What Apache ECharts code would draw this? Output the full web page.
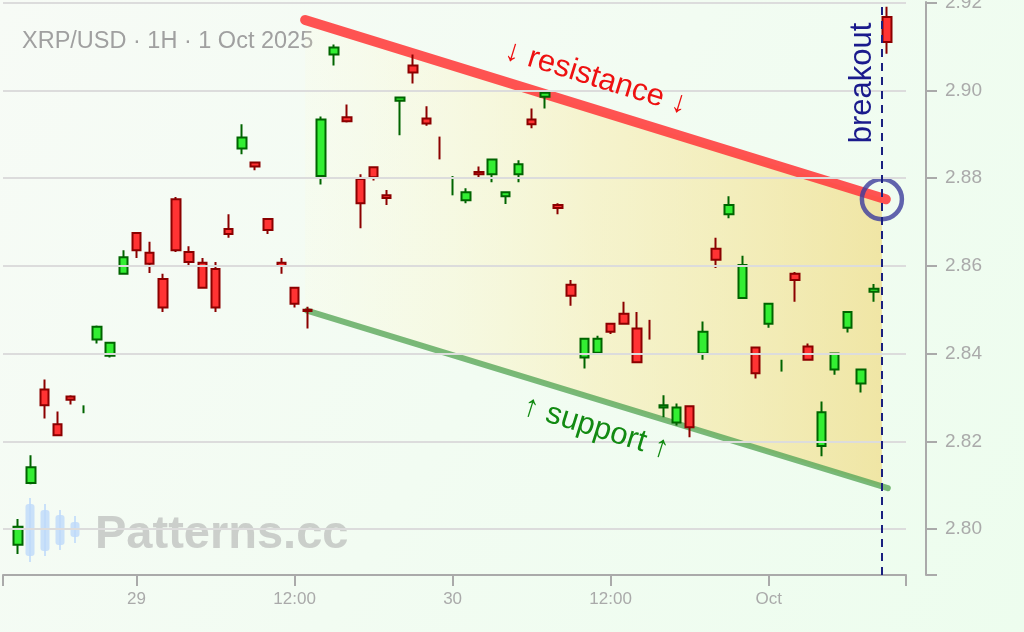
<!DOCTYPE html>
<html>
<head>
<meta charset="utf-8">
<script src="https://cdn.jsdelivr.net/npm/echarts@6/dist/echarts.min.js"></script>
<style>html,body{margin:0;padding:0;}#c{width:1024px;height:632px;}</style>
</head>
<body>
<div id="c"></div>
<script>
// Hours counted from 28 Sep 2025 00:00; first candle at 28 Sep 15:00 (1H candles)
const firstHour = 15;
const opens  = [2.7964,2.8105,2.8318,2.8239,2.8302,2.8272,2.8432,2.8395,2.8582,2.8675,2.8630,2.8570,2.8752,2.8632,2.8607,2.8593,2.8684,2.8868,2.8836,2.8707,2.8607,2.8550,2.8500,2.8805,2.9082,2.8939,2.8798,2.8825,2.8761,2.8977,2.9057,2.8936,2.8880,2.8780,2.8750,2.8814,2.8809,2.8759,2.8809,2.8934,2.8986,2.8739,2.8557,2.8391,2.8402,2.8468,2.8491,2.8457,2.8453,2.8277,2.8243,2.8280,2.8400,2.8639,2.8718,2.8527,2.8414,2.8468,2.8370,2.8582,2.8416,2.8189,2.8364,2.8459,2.8332,2.8541,2.9168];
const closes = [2.8005,2.8141,2.8282,2.8214,2.8295,2.8274,2.8461,2.8425,2.8620,2.8636,2.8605,2.8505,2.8636,2.8609,2.8550,2.8505,2.8673,2.8893,2.8827,2.8682,2.8600,2.8514,2.8497,2.8934,2.9098,2.8930,2.8743,2.8802,2.8755,2.8984,2.9041,2.8925,2.8878,2.8782,2.8768,2.8809,2.8843,2.8768,2.8832,2.8923,2.8995,2.8732,2.8532,2.8434,2.8434,2.8450,2.8468,2.8380,2.8451,2.8282,2.8277,2.8232,2.8450,2.8614,2.8739,2.8602,2.8355,2.8514,2.8372,2.8568,2.8386,2.8266,2.8400,2.8495,2.8364,2.8548,2.9111];
const lows   = [2.7943,2.8102,2.8252,2.8212,2.8284,2.8264,2.8423,2.8391,2.8582,2.8618,2.8584,2.8495,2.8632,2.8602,2.8550,2.8495,2.8664,2.8855,2.8818,2.8673,2.8582,2.8505,2.8457,2.8786,2.9057,2.8927,2.8686,2.8795,2.8739,2.8898,2.9016,2.8920,2.8843,2.8761,2.8743,2.8800,2.8791,2.8741,2.8791,2.8914,2.8959,2.8718,2.8509,2.8366,2.8400,2.8445,2.8468,2.8380,2.8432,2.8255,2.8236,2.8209,2.8386,2.8595,2.8709,2.8527,2.8343,2.8459,2.8359,2.8518,2.8386,2.8166,2.8352,2.8448,2.8311,2.8518,2.9084];
const highs  = [2.8023,2.8168,2.8341,2.8268,2.8305,2.8282,2.8464,2.8425,2.8636,2.8677,2.8655,2.8582,2.8757,2.8645,2.8618,2.8609,2.8718,2.8923,2.8836,2.8707,2.8618,2.8550,2.8507,2.8941,2.9105,2.8968,2.8809,2.8827,2.8773,2.8984,2.9082,2.8964,2.8895,2.8805,2.8777,2.8827,2.8845,2.8768,2.8841,2.8959,2.8995,2.8743,2.8568,2.8436,2.8441,2.8470,2.8518,2.8495,2.8477,2.8305,2.8286,2.8282,2.8473,2.8664,2.8759,2.8623,2.8414,2.8514,2.8386,2.8586,2.8423,2.8291,2.8400,2.8495,2.8364,2.8559,2.9191];

// Channel lines [hour, price]
const resistanceLine = [[36.8, 2.9161], [80.9, 2.8752]];
const supportLine    = [[36.95, 2.8498], [81.05, 2.8093]];
const breakoutHour = 80.6;
const breakoutPrice = 2.8752;

// Axes
const xMin = 13.86, xMax = 82.43;
const xTickHours  = [24, 36, 48, 60, 72];
const xTickLabels = ['29', '12:00', '30', '12:00', 'Oct'];
const yMin = 2.7895, yMax = 2.9202;
const yTicks = [2.80, 2.82, 2.84, 2.86, 2.88, 2.90, 2.92];

const allCandles = opens.map((o, i) => [firstHour + i, o, closes[i], lows[i], highs[i]]);
// candles whose body is too thin to show are drawn as plain wicks
const dojiLimit = 0.0003;
const bodyCandles = allCandles.filter(c => Math.abs(c[1] - c[2]) >= dojiLimit);
const lineCandles = allCandles.filter(c => Math.abs(c[1] - c[2]) < dojiLimit);

function lineAt(line, h) {
  const [a, b] = line;
  return a[1] + (b[1] - a[1]) * (h - a[0]) / (b[0] - a[0]);
}
const fillLeft = resistanceLine[0][0];
const fillPoly = [
  [fillLeft, lineAt(resistanceLine, fillLeft)],
  [breakoutHour, lineAt(resistanceLine, breakoutHour)],
  [breakoutHour, lineAt(supportLine, breakoutHour)],
  [fillLeft, lineAt(supportLine, fillLeft)]
];

const chart = echarts.init(document.getElementById('c'), null, {renderer: 'canvas'});
const axisColor = '#aaaaaa';
const labelFont = "'Liberation Sans', Arial, sans-serif";
const candleStyle = {
  color: '#33ee33', color0: '#ff3333',
  borderColor: '#006400', borderColor0: '#8b0000',
  borderWidth: 2
};

chart.setOption({
  animation: false,
  backgroundColor: {
    type: 'linear', x: 0, y: 0, x2: 1, y2: 1,
    colorStops: [{offset: 0, color: '#f7fbf6'}, {offset: 1, color: '#edfdee'}]
  },
  grid: {left: 3, right: 118, top: 2, bottom: 57, outerBoundsMode: 'none', containLabel: false},
  xAxis: {
    type: 'value', min: xMin, max: xMax,
    axisLine: {show: true, lineStyle: {color: axisColor, width: 2}},
    axisTick: {show: true, length: 11, lineStyle: {color: axisColor, width: 2},
      customValues: [xMin].concat(xTickHours, [xMax])},
    axisLabel: {customValues: xTickHours, color: axisColor, fontSize: 17, fontFamily: labelFont, margin: 16,
      formatter: v => { const k = xTickHours.indexOf(v); return k >= 0 ? xTickLabels[k] : ''; }},
    splitLine: {show: false}
  },
  yAxis: {
    type: 'value', position: 'right', offset: 20, min: yMin, max: yMax, scale: true,
    axisLine: {show: true, lineStyle: {color: axisColor, width: 2}},
    axisTick: {show: true, length: 11, lineStyle: {color: axisColor, width: 2},
      customValues: [yMin].concat(yTicks)},
    axisLabel: {customValues: yTicks, color: axisColor, fontSize: 19, fontFamily: labelFont, margin: 19,
      formatter: v => v.toFixed(2)},
    splitLine: {show: false}
  },
  series: [
    { // horizontal grid lines
      type: 'line', data: [], silent: true, z: 0,
      markLine: {
        symbol: 'none', silent: true, label: {show: false},
        lineStyle: {color: '#dcdcdc', width: 2, type: 'solid'},
        data: yTicks.map(v => ({yAxis: v}))
      }
    },
    { // channel fill
      type: 'custom', silent: true, z: 1,
      data: [0],
      renderItem: (params, api) => {
        const pts = fillPoly.map(p => api.coord(p));
        return {
          type: 'polygon',
          shape: {points: pts},
          style: {
            fill: {
              type: 'linear', x: 0, y: 0, x2: 1, y2: 0,
              colorStops: [
                {offset: 0, color: 'rgba(255,250,215,0.15)'},
                {offset: 0.5, color: 'rgba(248,236,175,0.55)'},
                {offset: 1, color: 'rgba(240,222,140,0.75)'}
              ]
            }
          }
        };
      }
    },
    {
      type: 'line', data: resistanceLine, symbol: 'none', z: 2, silent: true,
      lineStyle: {color: '#ff4040', width: 10, opacity: 0.9, cap: 'round'}
    },
    {
      type: 'line', data: supportLine, symbol: 'none', z: 2, silent: true,
      lineStyle: {color: '#5aa85a', width: 6, opacity: 0.8, cap: 'round'}
    },
    {
      type: 'candlestick', z: 3,
      encode: {x: 0, y: [1, 2, 3, 4]},
      data: bodyCandles,
      barWidth: 9,
      itemStyle: candleStyle
    },
    {
      type: 'candlestick', z: 3,
      encode: {x: 0, y: [1, 2, 3, 4]},
      data: lineCandles,
      barWidth: 0.5,
      itemStyle: candleStyle
    },
    { // breakout dashed line + circle
      type: 'scatter', z: 4, silent: true,
      data: [[breakoutHour, breakoutPrice]],
      symbol: 'circle', symbolSize: 40,
      itemStyle: {color: 'rgba(0,0,0,0)', borderColor: '#3c3c9c', borderWidth: 4.5},
      markLine: {
        symbol: 'none', silent: true, label: {show: false},
        lineStyle: {color: '#1a2080', width: 2, type: [8, 6]},
        data: [{xAxis: breakoutHour}]
      }
    }
  ],
  graphic: [
    {type: 'text', z: 0, x: 22, y: 42, style: {text: 'XRP/USD · 1H · 1 Oct 2025', fill: '#a0a0a0',
      font: "23.5px 'Liberation Sans', Arial, sans-serif", verticalAlign: 'middle'}},
    {type: 'text', z: 0, x: 95, y: 535, style: {text: 'Patterns.cc', fill: 'rgba(170,170,170,0.55)',
      font: "bold 47px 'Liberation Sans', Arial, sans-serif", verticalAlign: 'middle'}},
    // watermark candle icon
    {type: 'rect', z: 0, shape: {x: 29, y: 498, width: 2, height: 64}, style: {fill: 'rgba(190,218,250,0.8)'}},
    {type: 'rect', z: 0, shape: {x: 25.5, y: 504, width: 9, height: 52, r: 3}, style: {fill: 'rgba(190,218,250,0.8)'}},
    {type: 'rect', z: 0, shape: {x: 44, y: 504, width: 2, height: 52}, style: {fill: 'rgba(190,218,250,0.8)'}},
    {type: 'rect', z: 0, shape: {x: 40.5, y: 510, width: 9, height: 41, r: 3}, style: {fill: 'rgba(190,218,250,0.8)'}},
    {type: 'rect', z: 0, shape: {x: 59, y: 510, width: 2, height: 40}, style: {fill: 'rgba(190,218,250,0.8)'}},
    {type: 'rect', z: 0, shape: {x: 55.5, y: 515, width: 9, height: 30, r: 3}, style: {fill: 'rgba(190,218,250,0.8)'}},
    {type: 'rect', z: 0, shape: {x: 74, y: 516, width: 2, height: 27}, style: {fill: 'rgba(190,218,250,0.8)'}},
    {type: 'rect', z: 0, shape: {x: 70.5, y: 522, width: 9, height: 15, r: 3}, style: {fill: 'rgba(190,218,250,0.8)'}},
    // annotations
    {type: 'text', z: 10, x: 596, y: 78, rotation: -0.30, style: {text: '↓ resistance ↓', fill: '#ee1111',
      font: "31px 'Liberation Sans', Arial, sans-serif", align: 'center', verticalAlign: 'middle'}},
    {type: 'text', z: 10, x: 596, y: 428, rotation: -0.30, style: {text: '↑ support ↑', fill: '#128a12',
      font: "31px 'Liberation Sans', Arial, sans-serif", align: 'center', verticalAlign: 'middle'}},
    {type: 'text', z: 10, x: 862, y: 83, rotation: Math.PI / 2, style: {text: 'breakout', fill: '#1a1a8c',
      font: "31px 'Liberation Sans', Arial, sans-serif", align: 'center', verticalAlign: 'middle'}}
  ]
});
</script>
</body>
</html>
